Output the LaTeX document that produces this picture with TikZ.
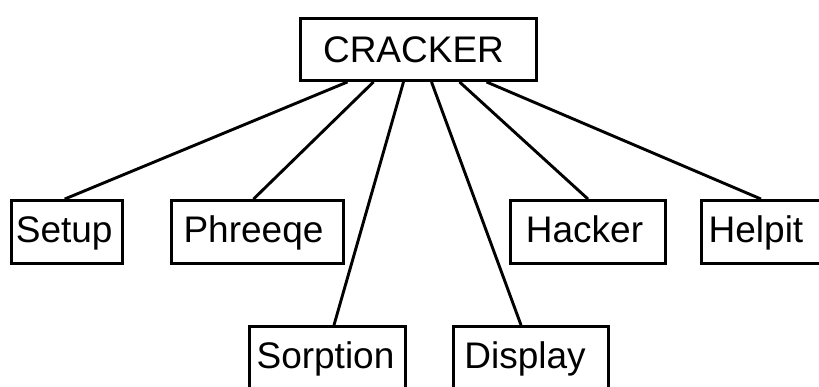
\documentclass[tikz,border=0pt]{standalone}
\usepackage{fontspec}
\setmainfont{Liberation Sans}
\usetikzlibrary{positioning}

\begin{document}
\begin{tikzpicture}[
  x=1pt,y=-1pt,
  font=\fontsize{37}{40}\selectfont,
  box/.style={draw,line width=2.9pt,minimum height=63pt,inner sep=0pt,
              text height=27pt,text depth=6pt},
  link/.style={line width=2.9pt}
]
\useasboundingbox (0,0) rectangle (819,386);
% main program
\node[box,minimum width=236pt,minimum height=62pt,text depth=2pt] (crk) at (418.5,49.5) {CRACKER\kern10pt};
% modules, upper row
\node[box,minimum width=111pt] (setup) at (66.7,232) {Setup\kern5pt};
\node[box,minimum width=172pt] (phreeqe) at (257.5,232) {Phreeqe\kern8pt};
\node[box,minimum width=155pt] (hacker) at (588,232) {Hacker\kern7pt};
\node[box,minimum width=119pt] (helpit) at (761,232) {Helpit\kern10pt};
% modules, lower row
\node[box,minimum width=156pt] (sorp) at (327.5,358) {Sorption\kern4pt};
\node[box,minimum width=155pt] (disp) at (531,358) {Display\kern12pt};

\draw[link] ([xshift=-71pt]crk.south) -- ([xshift=-2pt]setup.north);
\draw[link] ([xshift=-45pt]crk.south) -- ([xshift=-4pt]phreeqe.north);
\draw[link] ([xshift=-15pt]crk.south) -- ([xshift=6.5pt]sorp.north);
\draw[link] ([xshift=13pt]crk.south) -- ([xshift=-10pt]disp.north);
\draw[link] ([xshift=41pt]crk.south) -- (hacker.north);
\draw[link] ([xshift=68pt]crk.south) -- (helpit.north);
\end{tikzpicture}
\end{document}
